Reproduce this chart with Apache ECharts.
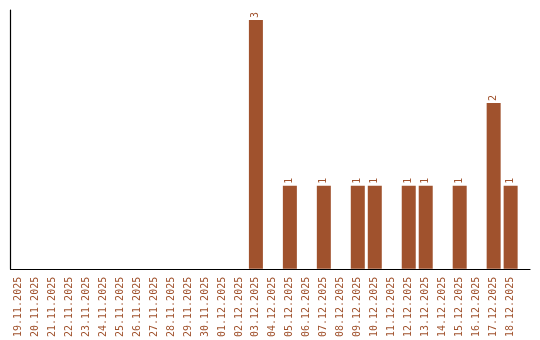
<!DOCTYPE html>
<html><head><meta charset="utf-8">
<script src="https://cdn.jsdelivr.net/npm/echarts@6/dist/echarts.min.js"></script>
<style>html,body{margin:0;padding:0;background:#fff}#c{width:540px;height:340px}</style>
</head><body><div id="c"></div>
<script>
const categories = ["19.11.2025","20.11.2025","21.11.2025","22.11.2025","23.11.2025","24.11.2025","25.11.2025","26.11.2025","27.11.2025","28.11.2025","29.11.2025","30.11.2025","01.12.2025","02.12.2025","03.12.2025","04.12.2025","05.12.2025","06.12.2025","07.12.2025","08.12.2025","09.12.2025","10.12.2025","11.12.2025","12.12.2025","13.12.2025","14.12.2025","15.12.2025","16.12.2025","17.12.2025","18.12.2025"];
const values = [0,0,0,0,0,0,0,0,0,0,0,0,0,0,3,0,1,0,1,0,1,1,0,1,1,0,1,0,2,1];
const color = '#a0522d';
const chart = echarts.init(document.getElementById('c'));
const idx = categories.map((c, i) => i);
chart.setOption({
  animation: false,
  grid: {left: 10.5, right: 10, top: 10, bottom: 70, containLabel: false},
  xAxis: {
    type: 'value', min: -0.45, max: 30.14,
    axisLine: {onZero: false, lineStyle: {color: '#000', width: 1.2}},
    axisTick: {show: false},
    splitLine: {show: false},
    axisLabel: {customValues: idx, formatter: v => categories[Math.round(v)] || '',
      rotate: 90, color: color, fontFamily: 'DejaVu Sans Mono', fontSize: 10, margin: 8,
      showMinLabel: true, showMaxLabel: true}
  },
  yAxis: {
    type: 'value', min: 0, max: 3.12,
    axisLine: {show: true, onZero: false, lineStyle: {color: '#000', width: 1.2}},
    axisTick: {show: false}, axisLabel: {show: false}, splitLine: {show: false}
  },
  series: [{
    type: 'bar', data: values.map((v, i) => [i, v]).filter(d => d[1] > 0),
    barWidth: 14,
    itemStyle: {color: color},
    label: {show: true, position: 'top', rotate: 90, align: 'left', verticalAlign: 'middle', distance: 2,
      color: color, fontFamily: 'DejaVu Sans Mono', fontSize: 10, formatter: p => p.value[1]}
  }]
});
</script></body></html>
